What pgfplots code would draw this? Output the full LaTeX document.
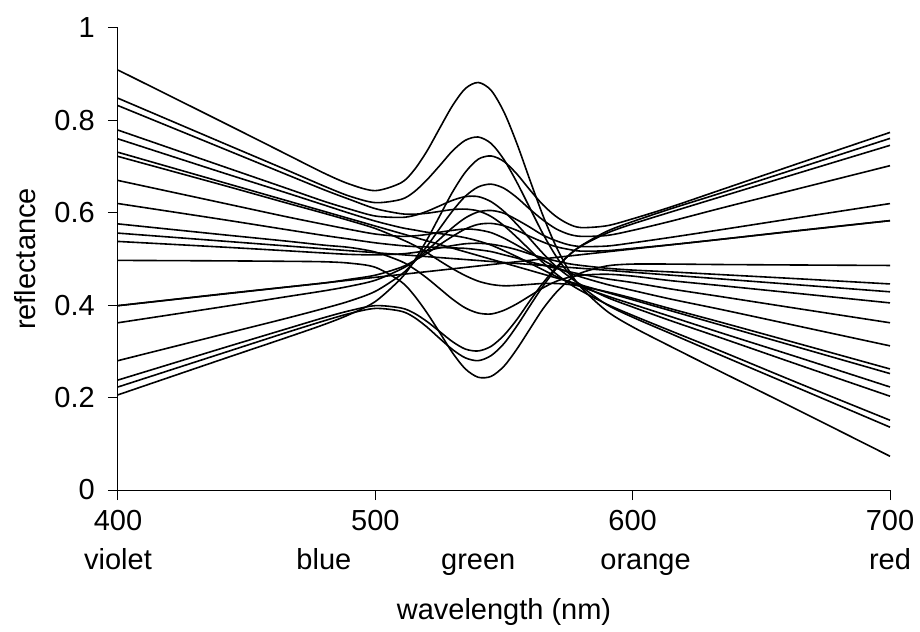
\documentclass[border=0pt]{standalone}
\usepackage{fontspec}
\setmainfont{Liberation Sans}
\usepackage{pgfplots}
\pgfplotsset{compat=1.18}
\pgfplotsset{curve/.style={black, solid, line width=1.6bp, smooth, no markers}}
\begin{document}
\begin{tikzpicture}[font=\fontsize{29bp}{35bp}\selectfont]
\begin{axis}[
  at={(0,0)}, anchor=south west,
  scale only axis, width=772bp, height=462bp,
  xmin=400, xmax=700, ymin=0, ymax=1,
  axis lines=left, axis line style={-, line width=1bp, black},
  tick align=outside, major tick length=10bp,
  tick style={line width=1bp, black},
  xtick={400,500,600,700}, ytick={0,0.2,0.4,0.6,0.8,1},
  yticklabels={0,0.2,0.4,0.6,0.8,1},
  /pgf/number format/assume math mode=true,
  xticklabel style={anchor=base, inner sep=0pt, yshift=-30bp},
  yticklabel style={anchor=east, inner sep=0pt, xshift=-13bp},
  clip=false,
  xlabel={wavelength (nm)}, ylabel={reflectance},
  x label style={at={(axis description cs:0.5,-0.281)}, anchor=base},
  y label style={at={(axis description cs:-0.1075,0.5)}, anchor=base},
]
\addplot[curve] coordinates {(400,0.909)(440,0.798)(465,0.728)(480,0.686)(490,0.662)(500,0.648)(510,0.665)(515,0.692)(520,0.733)(525,0.783)(530,0.832)(535,0.869)(540,0.882)(545,0.865)(550,0.818)(555,0.750)(560,0.672)(565,0.596)(570,0.530)(575,0.477)(580,0.438)(590,0.387)(600,0.353)(615,0.310)(635,0.254)(665,0.171)(700,0.073)};
\addplot[curve] coordinates {(400,0.848)(440,0.753)(465,0.694)(480,0.658)(490,0.636)(500,0.622)(510,0.629)(515,0.645)(520,0.671)(525,0.702)(530,0.734)(535,0.757)(540,0.764)(545,0.750)(550,0.715)(555,0.666)(560,0.611)(565,0.556)(570,0.508)(575,0.470)(580,0.441)(590,0.401)(600,0.374)(615,0.338)(635,0.290)(665,0.219)(700,0.136)};
\addplot[curve] coordinates {(400,0.832)(440,0.741)(465,0.684)(480,0.650)(490,0.629)(500,0.609)(510,0.598)(515,0.597)(520,0.599)(525,0.603)(530,0.607)(535,0.608)(540,0.604)(545,0.592)(550,0.572)(555,0.547)(560,0.520)(565,0.493)(570,0.469)(575,0.448)(580,0.431)(590,0.402)(600,0.378)(615,0.344)(635,0.299)(665,0.230)(700,0.151)};
\addplot[curve] coordinates {(400,0.779)(440,0.702)(465,0.654)(480,0.625)(490,0.608)(500,0.593)(510,0.590)(515,0.594)(520,0.603)(525,0.615)(530,0.627)(535,0.635)(540,0.635)(545,0.624)(550,0.603)(555,0.575)(560,0.544)(565,0.513)(570,0.485)(575,0.463)(580,0.444)(590,0.417)(600,0.396)(615,0.366)(635,0.328)(665,0.270)(700,0.203)};
\addplot[curve] coordinates {(400,0.760)(440,0.688)(465,0.644)(480,0.617)(490,0.599)(500,0.582)(510,0.568)(515,0.563)(520,0.558)(525,0.555)(530,0.551)(535,0.546)(540,0.539)(545,0.530)(550,0.518)(555,0.505)(560,0.491)(565,0.477)(570,0.463)(575,0.451)(580,0.440)(590,0.420)(600,0.402)(615,0.375)(635,0.339)(665,0.286)(700,0.223)};
\addplot[curve] coordinates {(400,0.731)(550,0.4915)(700,0.252)};
\addplot[curve] coordinates {(400,0.722)(440,0.661)(465,0.622)(480,0.599)(490,0.583)(500,0.566)(510,0.543)(515,0.530)(520,0.514)(525,0.496)(530,0.479)(535,0.464)(540,0.452)(545,0.445)(550,0.442)(555,0.443)(560,0.445)(565,0.447)(570,0.447)(575,0.445)(580,0.441)(590,0.429)(600,0.415)(615,0.392)(635,0.362)(665,0.316)(700,0.262)};
\addplot[curve] coordinates {(400,0.670)(440,0.622)(465,0.592)(480,0.575)(490,0.564)(500,0.554)(510,0.549)(515,0.550)(520,0.553)(525,0.558)(530,0.562)(535,0.565)(540,0.563)(545,0.557)(550,0.545)(555,0.530)(560,0.514)(565,0.498)(570,0.483)(575,0.471)(580,0.461)(590,0.445)(600,0.432)(615,0.413)(635,0.390)(665,0.354)(700,0.312)};
\addplot[curve] coordinates {(400,0.620)(440,0.586)(465,0.564)(480,0.551)(490,0.543)(500,0.535)(510,0.529)(515,0.527)(520,0.526)(525,0.525)(530,0.524)(535,0.523)(540,0.520)(545,0.516)(550,0.509)(555,0.502)(560,0.494)(565,0.487)(570,0.480)(575,0.473)(580,0.467)(590,0.457)(600,0.449)(615,0.435)(635,0.418)(665,0.392)(700,0.362)};
\addplot[curve] coordinates {(400,0.576)(440,0.553)(465,0.539)(480,0.530)(490,0.525)(500,0.515)(510,0.495)(515,0.479)(520,0.459)(525,0.436)(530,0.413)(535,0.394)(540,0.383)(545,0.381)(550,0.389)(555,0.403)(560,0.420)(565,0.437)(570,0.451)(575,0.460)(580,0.465)(590,0.467)(600,0.463)(615,0.453)(635,0.442)(665,0.425)(700,0.405)};
\addplot[curve] coordinates {(400,0.556)(550,0.4925)(700,0.429)};
\addplot[curve] coordinates {(400,0.538)(440,0.526)(465,0.518)(480,0.513)(490,0.510)(500,0.509)(510,0.511)(515,0.514)(520,0.518)(525,0.524)(530,0.529)(535,0.533)(540,0.534)(545,0.532)(550,0.527)(555,0.520)(560,0.511)(565,0.503)(570,0.496)(575,0.490)(580,0.486)(590,0.480)(600,0.476)(615,0.472)(635,0.466)(665,0.457)(700,0.446)};
\addplot[curve] coordinates {(400,0.497)(440,0.496)(465,0.495)(480,0.494)(490,0.491)(500,0.482)(510,0.451)(515,0.422)(520,0.384)(525,0.341)(530,0.297)(535,0.262)(540,0.244)(545,0.246)(550,0.268)(555,0.305)(560,0.348)(565,0.391)(570,0.426)(575,0.453)(580,0.470)(590,0.485)(600,0.489)(615,0.489)(635,0.488)(665,0.487)(700,0.486)};
\addplot[curve] coordinates {(400,0.399)(440,0.424)(465,0.439)(480,0.448)(490,0.456)(500,0.465)(510,0.482)(515,0.496)(520,0.512)(525,0.531)(530,0.549)(535,0.565)(540,0.575)(545,0.577)(550,0.572)(555,0.562)(560,0.549)(565,0.537)(570,0.527)(575,0.521)(580,0.517)(590,0.518)(600,0.523)(615,0.531)(635,0.543)(665,0.562)(700,0.583)};
\addplot[curve] coordinates {(400,0.399)(550,0.491)(700,0.583)};
\addplot[curve] coordinates {(400,0.362)(440,0.396)(465,0.418)(480,0.431)(490,0.441)(500,0.454)(510,0.478)(515,0.495)(520,0.518)(525,0.543)(530,0.568)(535,0.589)(540,0.602)(545,0.605)(550,0.599)(555,0.585)(560,0.569)(565,0.552)(570,0.540)(575,0.531)(580,0.527)(590,0.528)(600,0.535)(615,0.547)(635,0.564)(665,0.590)(700,0.620)};
\addplot[curve] coordinates {(400,0.280)(440,0.336)(465,0.371)(480,0.393)(490,0.409)(500,0.430)(510,0.466)(515,0.493)(520,0.527)(525,0.566)(530,0.604)(535,0.636)(540,0.656)(545,0.662)(550,0.653)(555,0.633)(560,0.608)(565,0.585)(570,0.566)(575,0.554)(580,0.549)(590,0.551)(600,0.562)(615,0.582)(635,0.611)(665,0.653)(700,0.702)};
\addplot[curve] coordinates {(400,0.238)(440,0.306)(465,0.348)(480,0.373)(490,0.388)(500,0.399)(510,0.394)(515,0.383)(520,0.365)(525,0.343)(530,0.321)(535,0.305)(540,0.301)(545,0.311)(550,0.335)(555,0.369)(560,0.409)(565,0.447)(570,0.480)(575,0.507)(580,0.528)(590,0.556)(600,0.576)(615,0.602)(635,0.636)(665,0.687)(700,0.746)};
\addplot[curve] coordinates {(400,0.223)(440,0.295)(465,0.340)(480,0.366)(490,0.382)(500,0.393)(510,0.387)(515,0.374)(520,0.353)(525,0.328)(530,0.304)(535,0.286)(540,0.280)(545,0.291)(550,0.317)(555,0.355)(560,0.398)(565,0.440)(570,0.477)(575,0.507)(580,0.529)(590,0.560)(600,0.581)(615,0.609)(635,0.644)(665,0.698)(700,0.761)};
\addplot[curve] coordinates {(400,0.206)(440,0.282)(465,0.329)(480,0.358)(490,0.380)(500,0.408)(510,0.458)(515,0.495)(520,0.541)(525,0.593)(530,0.645)(535,0.688)(540,0.716)(545,0.723)(550,0.711)(555,0.684)(560,0.650)(565,0.618)(570,0.593)(575,0.576)(580,0.568)(590,0.572)(600,0.587)(615,0.613)(635,0.651)(665,0.708)(700,0.774)};
\node[anchor=base] at (axis cs:400,-0.171) {violet};
\node[anchor=base] at (axis cs:480,-0.171) {blue};
\node[anchor=base] at (axis cs:540,-0.171) {green};
\node[anchor=base] at (axis cs:605,-0.171) {orange};
\node[anchor=base] at (axis cs:700,-0.171) {red};
\end{axis}
\path[use as bounding box] (-118bp,-142bp) rectangle (802bp,490bp);
\end{tikzpicture}
\end{document}
